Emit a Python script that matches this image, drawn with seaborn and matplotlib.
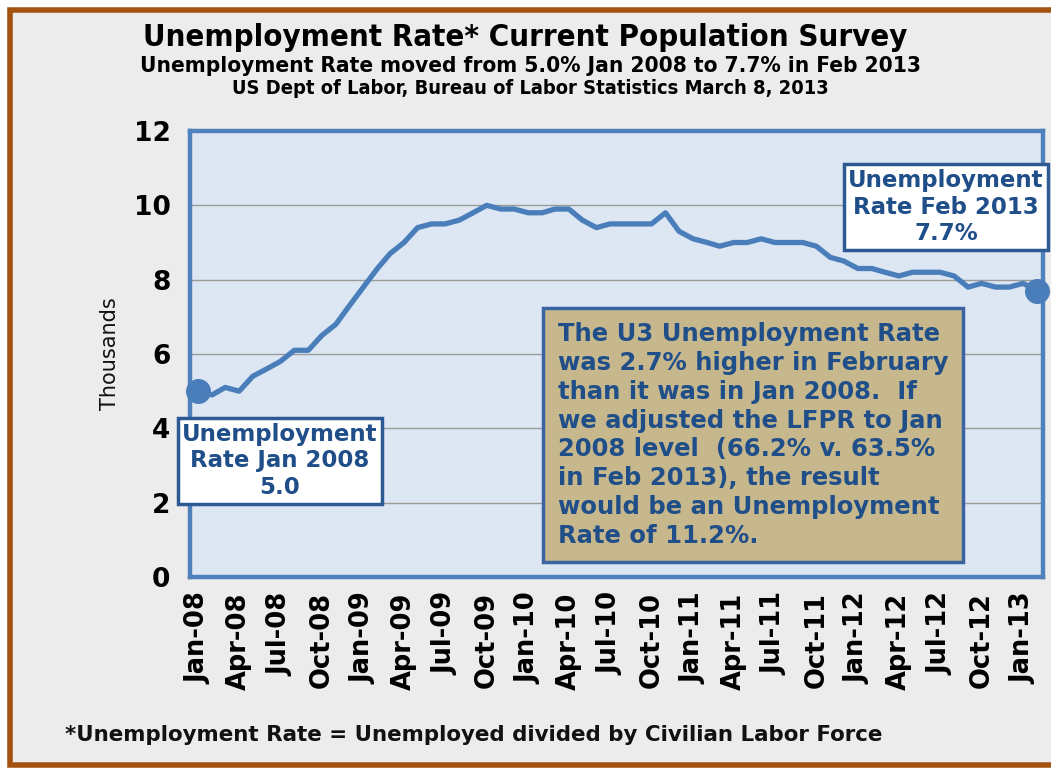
import matplotlib.pyplot as plt
import matplotlib.patches as mpatches
import pandas as pd
import seaborn as sns

START_MONTH = "2008-01"
RATES = [
    5.0, 4.9, 5.1, 5.0, 5.4, 5.6, 5.8, 6.1, 6.1, 6.5, 6.8, 7.3,
    7.8, 8.3, 8.7, 9.0, 9.4, 9.5, 9.5, 9.6, 9.8, 10.0, 9.9, 9.9,
    9.8, 9.8, 9.9, 9.9, 9.6, 9.4, 9.5, 9.5, 9.5, 9.5, 9.8, 9.3,
    9.1, 9.0, 8.9, 9.0, 9.0, 9.1, 9.0, 9.0, 9.0, 8.9, 8.6, 8.5,
    8.3, 8.3, 8.2, 8.1, 8.2, 8.2, 8.2, 8.1, 7.8, 7.9, 7.8, 7.8,
    7.9, 7.7,
]
Y_TICKS = [0, 2, 4, 6, 8, 10, 12]

TITLE = "Unemployment Rate* Current Population Survey"
SUBTITLE_1 = "Unemployment Rate moved from 5.0% Jan 2008 to 7.7% in Feb 2013"
SUBTITLE_2 = "US Dept of Labor, Bureau of Labor Statistics March 8, 2013"
FOOTNOTE = "*Unemployment Rate = Unemployed divided by Civilian Labor Force"
NOTE_START = "Unemployment\nRate Jan 2008\n5.0"
NOTE_END = "Unemployment\nRate Feb 2013\n7.7%"
NOTE_BIG = (
    "The U3 Unemployment Rate\n"
    "was 2.7% higher in February\n"
    "than it was in Jan 2008.  If\n"
    "we adjusted the LFPR to Jan\n"
    "2008 level  (66.2% v. 63.5%\n"
    "in Feb 2013), the result\n"
    "would be an Unemployment\n"
    "Rate of 11.2%."
)

LINE_BLUE = "#4a7ebb"
TEXT_BLUE = "#1f4e89"

df = pd.DataFrame({
    "month": pd.date_range(START_MONTH, periods=len(RATES), freq="MS"),
    "rate": RATES,
})

sns.set_style("white")
plt.rcParams["font.family"] = ["DejaVu Sans"]

fig = plt.figure(figsize=(10.51, 7.68), dpi=100, facecolor="white")

# grey panel with brown frame
frame = mpatches.Rectangle(
    (10 / 1051, 3 / 768), 1.2, 755 / 768, transform=fig.transFigure,
    facecolor="#ececec", edgecolor="#a4520f", linewidth=4, zorder=-10,
)
fig.patches.append(frame)

ax = fig.add_axes([190 / 1051, 1 - 577 / 768, (1043 - 190) / 1051, (577 - 131) / 768])
ax.set_facecolor("#dde7f3")

sns.lineplot(data=df, x="month", y="rate", ax=ax, color=LINE_BLUE, linewidth=3.8, zorder=3)

# end point markers
ends = df.iloc[[0, -1]]
ax.plot(ends["month"], ends["rate"], "o", color=LINE_BLUE, markersize=17, zorder=4, clip_on=False)

ax.set_ylim(0, 12)
ax.set_yticks(Y_TICKS)
ax.set_xlim(pd.Timestamp("2007-12-14"), pd.Timestamp("2013-02-14"))
xt = df["month"].iloc[::3]
ax.set_xticks(xt)
ax.set_xticklabels([d.strftime("%b-%y") for d in xt], rotation=90)

ax.grid(axis="y", color="#9a9a9a", linewidth=1)
ax.set_axisbelow(True)
for s in ax.spines.values():
    s.set_color("#4f81bd")
    s.set_linewidth(3.2)

ax.tick_params(axis="y", labelsize=19, length=8, color="#9a9a9a", labelcolor="black", pad=6)
ax.tick_params(axis="x", labelsize=18.5, length=5, color="#9a9a9a", labelcolor="black", pad=6)
for lab in ax.get_xticklabels() + ax.get_yticklabels():
    lab.set_fontweight("bold")

ax.set_xlabel("")
ax.set_ylabel("Thousands", fontsize=15, labelpad=10, color="#111111")

# titles
fig.text(0.5, 1 - 38 / 768, TITLE, ha="center", va="center", fontsize=22.3,
         fontweight="bold", fontstretch="condensed", color="black")
fig.text(0.505, 1 - 66 / 768, SUBTITLE_1, ha="center", va="center", fontsize=16.2,
         fontweight="bold", fontstretch="condensed", color="black")
fig.text(0.505, 1 - 89 / 768, SUBTITLE_2, ha="center", va="center", fontsize=14.4,
         fontweight="bold", fontstretch="condensed", color="black")

# annotation boxes
white_box = dict(boxstyle="square,pad=0.2", facecolor="white", edgecolor="#2d5a94", linewidth=2.5)
fig.text(280 / 1051, 1 - 461 / 768, NOTE_START, ha="center", va="center", fontsize=16.5,
         fontweight="bold", color=TEXT_BLUE, bbox=white_box, linespacing=1.2, zorder=5)
fig.text(946 / 1051, 1 - 207 / 768, NOTE_END, ha="center", va="center", fontsize=16.5,
         fontweight="bold", color=TEXT_BLUE, bbox=white_box, linespacing=1.2, zorder=5)
fig.text(558 / 1051, 1 - 435 / 768, NOTE_BIG, ha="left", va="center", fontsize=17.5,
         fontweight="bold", color=TEXT_BLUE, linespacing=1.25, zorder=5,
         bbox=dict(boxstyle="square,pad=0.6", facecolor="#c6b78d", edgecolor="#3a64a0", linewidth=2.5))

fig.text(65 / 1051, 1 - 735 / 768, FOOTNOTE, ha="left", va="center", fontsize=15.4,
         fontweight="bold", color="#111111")

fig.savefig("out.png", dpi=100, facecolor=fig.get_facecolor())
